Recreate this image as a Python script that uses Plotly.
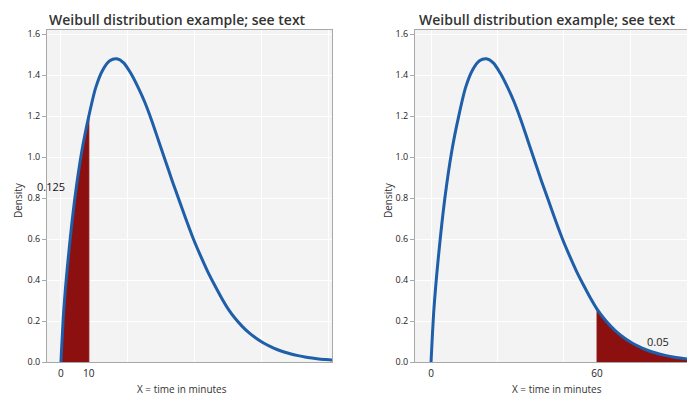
import plotly.graph_objects as go

# Curve (X = minutes, density as shown on the axis)
x_vals = [0, 1, 2.5, 5, 7.5, 10, 12.5, 15, 17.5, 20, 22.5, 25, 27.5, 30, 32.5, 35,
          37.5, 40, 42.5, 45, 47.5, 50, 52.5, 55, 57.5, 60, 62.5, 65, 67.5, 70,
          72.5, 75, 77.5, 80, 82.5, 85, 87.5, 90, 92.5, 95, 97.5]
dens = [0.0, 0.25, 0.49, 0.80, 1.03, 1.20, 1.34, 1.425, 1.47, 1.48, 1.46, 1.41,
        1.345, 1.27, 1.18, 1.08, 0.98, 0.88, 0.785, 0.69, 0.60, 0.52, 0.445, 0.378,
        0.315, 0.258, 0.212, 0.174, 0.142, 0.116, 0.094, 0.076, 0.061, 0.049, 0.039,
        0.031, 0.024, 0.019, 0.015, 0.012, 0.009]

left_cut = 10      # shaded P(X <= 10)
right_cut = 60     # shaded P(X >= 60)
left_label = "0.125"
right_label = "0.05"
title_text = "Weibull distribution example; see text"
x_title = "X = time in minutes"
y_title = "Density"
y_ticks = [0.0, 0.2, 0.4, 0.6, 0.8, 1.0, 1.2, 1.4, 1.6]
grid_x = [0, 24, 48, 72, 96]

# the page body adds an 8px margin; size the figure so it ends at the window edge
OFF = 8
W, H = 695 - OFF, 395 - OFF
BLUE = "#1f5ea8"
RED = "#8c1010"
BG = "#f3f3f3"
BORDER = "#a8a8a8"
FONT = "Open Sans"


def px(xw):
    return (xw - OFF) / W


def py(yw):
    return 1 - (yw - OFF) / H


fig = go.Figure()

# left panel shading
lx = [x for x in x_vals if x <= left_cut] + [left_cut]
ly = [d for x, d in zip(x_vals, dens) if x <= left_cut] + [0]
fig.add_trace(go.Scatter(x=lx, y=ly, fill="toself", fillcolor=RED, mode="lines",
                         line=dict(color=RED, width=1), xaxis="x", yaxis="y",
                         hoverinfo="skip", showlegend=False))
fig.add_trace(go.Scatter(x=x_vals, y=dens, mode="lines",
                         line=dict(color=BLUE, width=3, shape="spline", smoothing=0.8),
                         xaxis="x", yaxis="y", showlegend=False))

# right panel shading
rx = [right_cut] + [x for x in x_vals if x >= right_cut]
ry = [0] + [d for x, d in zip(x_vals, dens) if x >= right_cut]
rx = rx + [rx[-1]]
ry = ry + [0]
fig.add_trace(go.Scatter(x=rx, y=ry, fill="toself", fillcolor=RED, mode="lines",
                         line=dict(color=RED, width=1), xaxis="x2", yaxis="y2",
                         hoverinfo="skip", showlegend=False))
fig.add_trace(go.Scatter(x=x_vals, y=dens, mode="lines",
                         line=dict(color=BLUE, width=3, shape="spline", smoothing=0.8),
                         xaxis="x2", yaxis="y2", showlegend=False))

ydom = [py(362), py(30)]


def xaxis(dom, rng, ticks, anchor):
    return dict(domain=dom, range=rng, anchor=anchor, automargin=False,
                tickmode="array", tickvals=ticks, ticklabelstandoff=2,
                ticktext=[str(t) for t in ticks], showgrid=False, zeroline=False,
                ticks="", showline=True, linecolor=BORDER, linewidth=1, mirror=True,
                tickfont=dict(family=FONT, size=10, color="#222"),
                minor=dict(tickmode="array", tickvals=grid_x, showgrid=True,
                           gridcolor="white", gridwidth=1, ticks=""))


def yaxis(anchor):
    return dict(domain=ydom, range=[0, 1.62], anchor=anchor, automargin=False,
                tickmode="array", tickvals=y_ticks, ticktext=[f"{v:.1f}" for v in y_ticks],
                showgrid=True, gridcolor="white", gridwidth=1, zeroline=False,
                ticks="outside", ticklen=4, tickcolor=BORDER, showline=True,
                linecolor=BORDER, linewidth=1, mirror=True,
                tickfont=dict(family=FONT, size=9, color="#222"))


fig.update_layout(
    width=W, height=H, margin=dict(l=0, r=0, t=0, b=0, autoexpand=False),
    paper_bgcolor="white", plot_bgcolor=BG,
    xaxis=xaxis([px(47), px(332)], [-5.0, 97.2], [0, left_cut], "y"),
    yaxis=yaxis("x"),
    xaxis2=xaxis([px(415), 1.0], [-5.8, 95.4], [0, right_cut], "y2"),
    yaxis2=yaxis("x2"),
)

annos = []
for x0, xc in [(47, 182), (417, 557)]:
    annos.append(dict(x=px(x0), y=1.0, xref="paper", yref="paper", xanchor="left",
                      yanchor="top", text=title_text, showarrow=False,
                      font=dict(family=FONT, size=14, color="#333", weight=600)))
    annos.append(dict(x=px(xc), y=py(389), xref="paper", yref="paper", xanchor="center",
                      yanchor="middle", text=x_title, showarrow=False,
                      font=dict(family=FONT, size=10, color="#333")))
for xp in [18, 388]:
    annos.append(dict(x=px(xp), y=py(200), xref="paper", yref="paper", xanchor="center",
                      yanchor="middle", text=y_title, textangle=-90, showarrow=False,
                      font=dict(family=FONT, size=10, color="#333")))
annos.append(dict(x=-3.6, y=0.855, xref="x", yref="y", text=left_label, showarrow=False,
                  font=dict(family=FONT, size=11, color="#111")))
annos.append(dict(x=81.9, y=0.10, xref="x2", yref="y2", text=right_label, showarrow=False,
                  font=dict(family=FONT, size=11, color="#222")))
fig.update_layout(annotations=annos)

fig.write_html("out.html")
